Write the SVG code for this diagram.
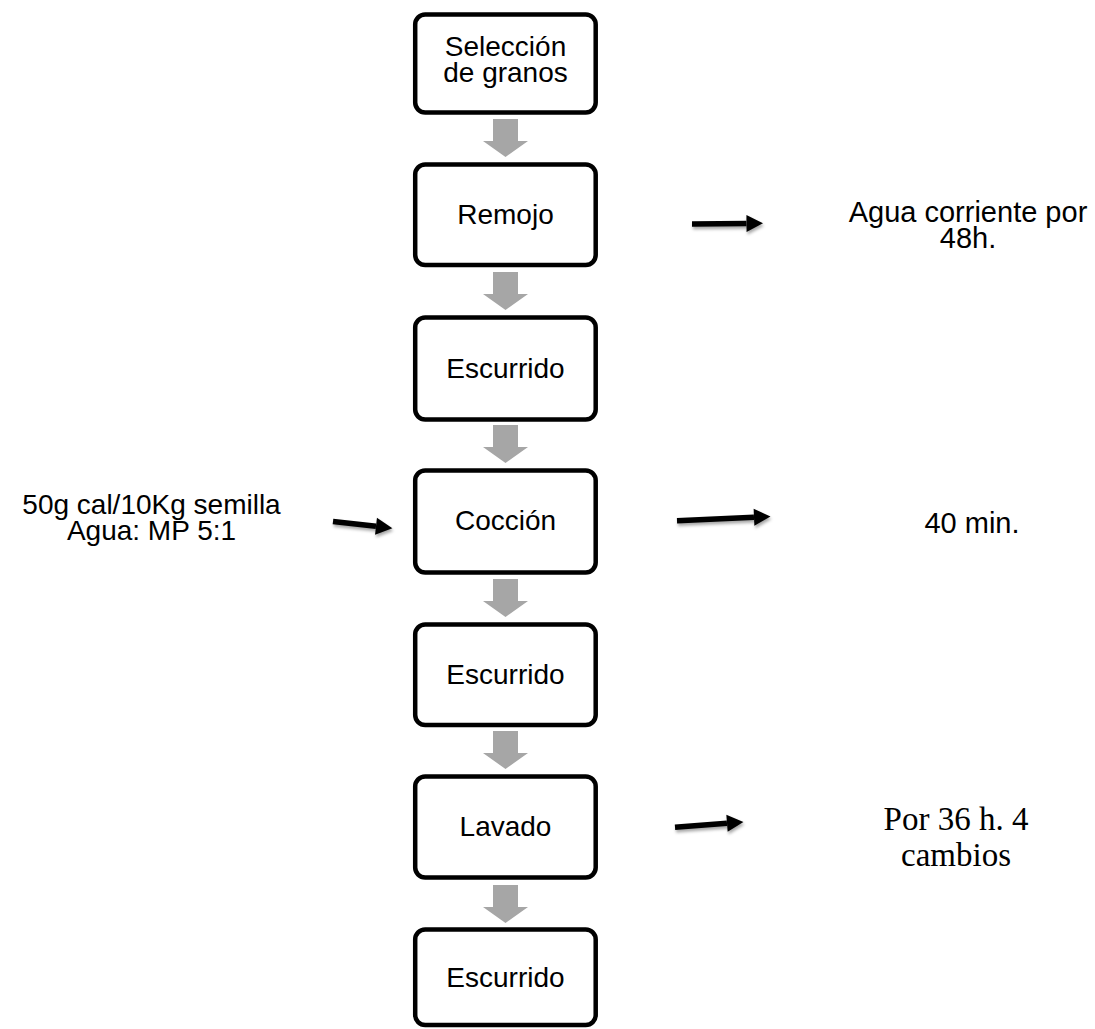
<svg xmlns="http://www.w3.org/2000/svg" width="1095" height="1029" viewBox="0 0 1095 1029">
<defs>
<style>
.box{fill:#fff;stroke:#000;stroke-width:4.5}
.t{font-family:"Liberation Sans",Arial,sans-serif;font-size:28px;fill:#000;text-anchor:middle}
.ts{font-family:"Liberation Serif","Times New Roman",serif;font-size:33px;fill:#000;text-anchor:middle}
.flow{fill:#a6a6a6}
.blk{stroke:#000;stroke-width:5.5;fill:none}
</style>
<marker id="ah" markerUnits="userSpaceOnUse" markerWidth="18" markerHeight="18" refX="0" refY="8.5" orient="auto" overflow="visible">
<path d="M0,0 L16.5,8.5 L0,17 Z" fill="#000"/>
</marker>
<filter id="sh" x="-20%" y="-100%" width="140%" height="300%">
<feDropShadow dx="1" dy="2.5" stdDeviation="1.8" flood-color="#000" flood-opacity="0.35"/>
</filter>
<path id="garrow" d="M-12.5,0 H12.5 V22 H22.5 L0,38 L-22.5,22 H-12.5 Z"/>
</defs>
<rect width="1095" height="1029" fill="#fff"/>
<g id="connectors">
<use href="#garrow" class="flow" x="505.5" y="119"/>
<use href="#garrow" class="flow" x="505.5" y="272"/>
<use href="#garrow" class="flow" x="505.5" y="425"/>
<use href="#garrow" class="flow" x="505.5" y="579"/>
<use href="#garrow" class="flow" x="505.5" y="731"/>
<use href="#garrow" class="flow" x="505.5" y="885"/>
<g filter="url(#sh)">
<line class="blk" x1="692" y1="224" x2="746.5" y2="223.5" marker-end="url(#ah)"/>
<line class="blk" x1="677" y1="520.7" x2="754" y2="517.3" marker-end="url(#ah)"/>
<line class="blk" x1="675" y1="827.3" x2="727" y2="823.2" marker-end="url(#ah)"/>
<line class="blk" x1="333" y1="521.5" x2="376" y2="526.3" marker-end="url(#ah)"/>
</g>
</g>
<g id="n1"><rect class="box" x="415.2" y="14.5" width="180.5" height="98" rx="10"/><text class="t" x="505.5" y="56">Selección</text><text class="t" x="505.5" y="82">de granos</text></g>
<g id="n2"><rect class="box" x="415.2" y="164.5" width="180.5" height="100.5" rx="10"/><text class="t" x="505.5" y="224">Remojo</text></g>
<g id="n3"><rect class="box" x="415.2" y="317.5" width="180.5" height="102" rx="10"/><text class="t" x="505.5" y="378">Escurrido</text></g>
<g id="n4"><rect class="box" x="415.2" y="470.5" width="180.5" height="102" rx="10"/><text class="t" x="505.5" y="530">Cocción</text></g>
<g id="n5"><rect class="box" x="415.2" y="624.5" width="180.5" height="100.5" rx="10"/><text class="t" x="505.5" y="684">Escurrido</text></g>
<g id="n6"><rect class="box" x="415.2" y="776.5" width="180.5" height="101" rx="10"/><text class="t" x="505.5" y="836">Lavado</text></g>
<g id="n7"><rect class="box" x="415.2" y="929.5" width="180.5" height="95.5" rx="10"/><text class="t" x="505.5" y="987">Escurrido</text></g>
<g id="note-remojo"><text class="t" x="968" y="222" style="font-size:29px">Agua corriente por</text><text class="t" x="968" y="248" style="font-size:29px">48h.</text></g>
<g id="note-coccion"><text class="t" x="972" y="533" style="font-size:29px">40 min.</text></g>
<g id="note-lavado"><text class="ts" x="956" y="830">Por 36 h. 4</text><text class="ts" x="956" y="866">cambios</text></g>
<g id="note-input"><text class="t" x="151.5" y="514">50g cal/10Kg semilla</text><text class="t" x="151.5" y="540">Agua: MP 5:1</text></g>
</svg>
